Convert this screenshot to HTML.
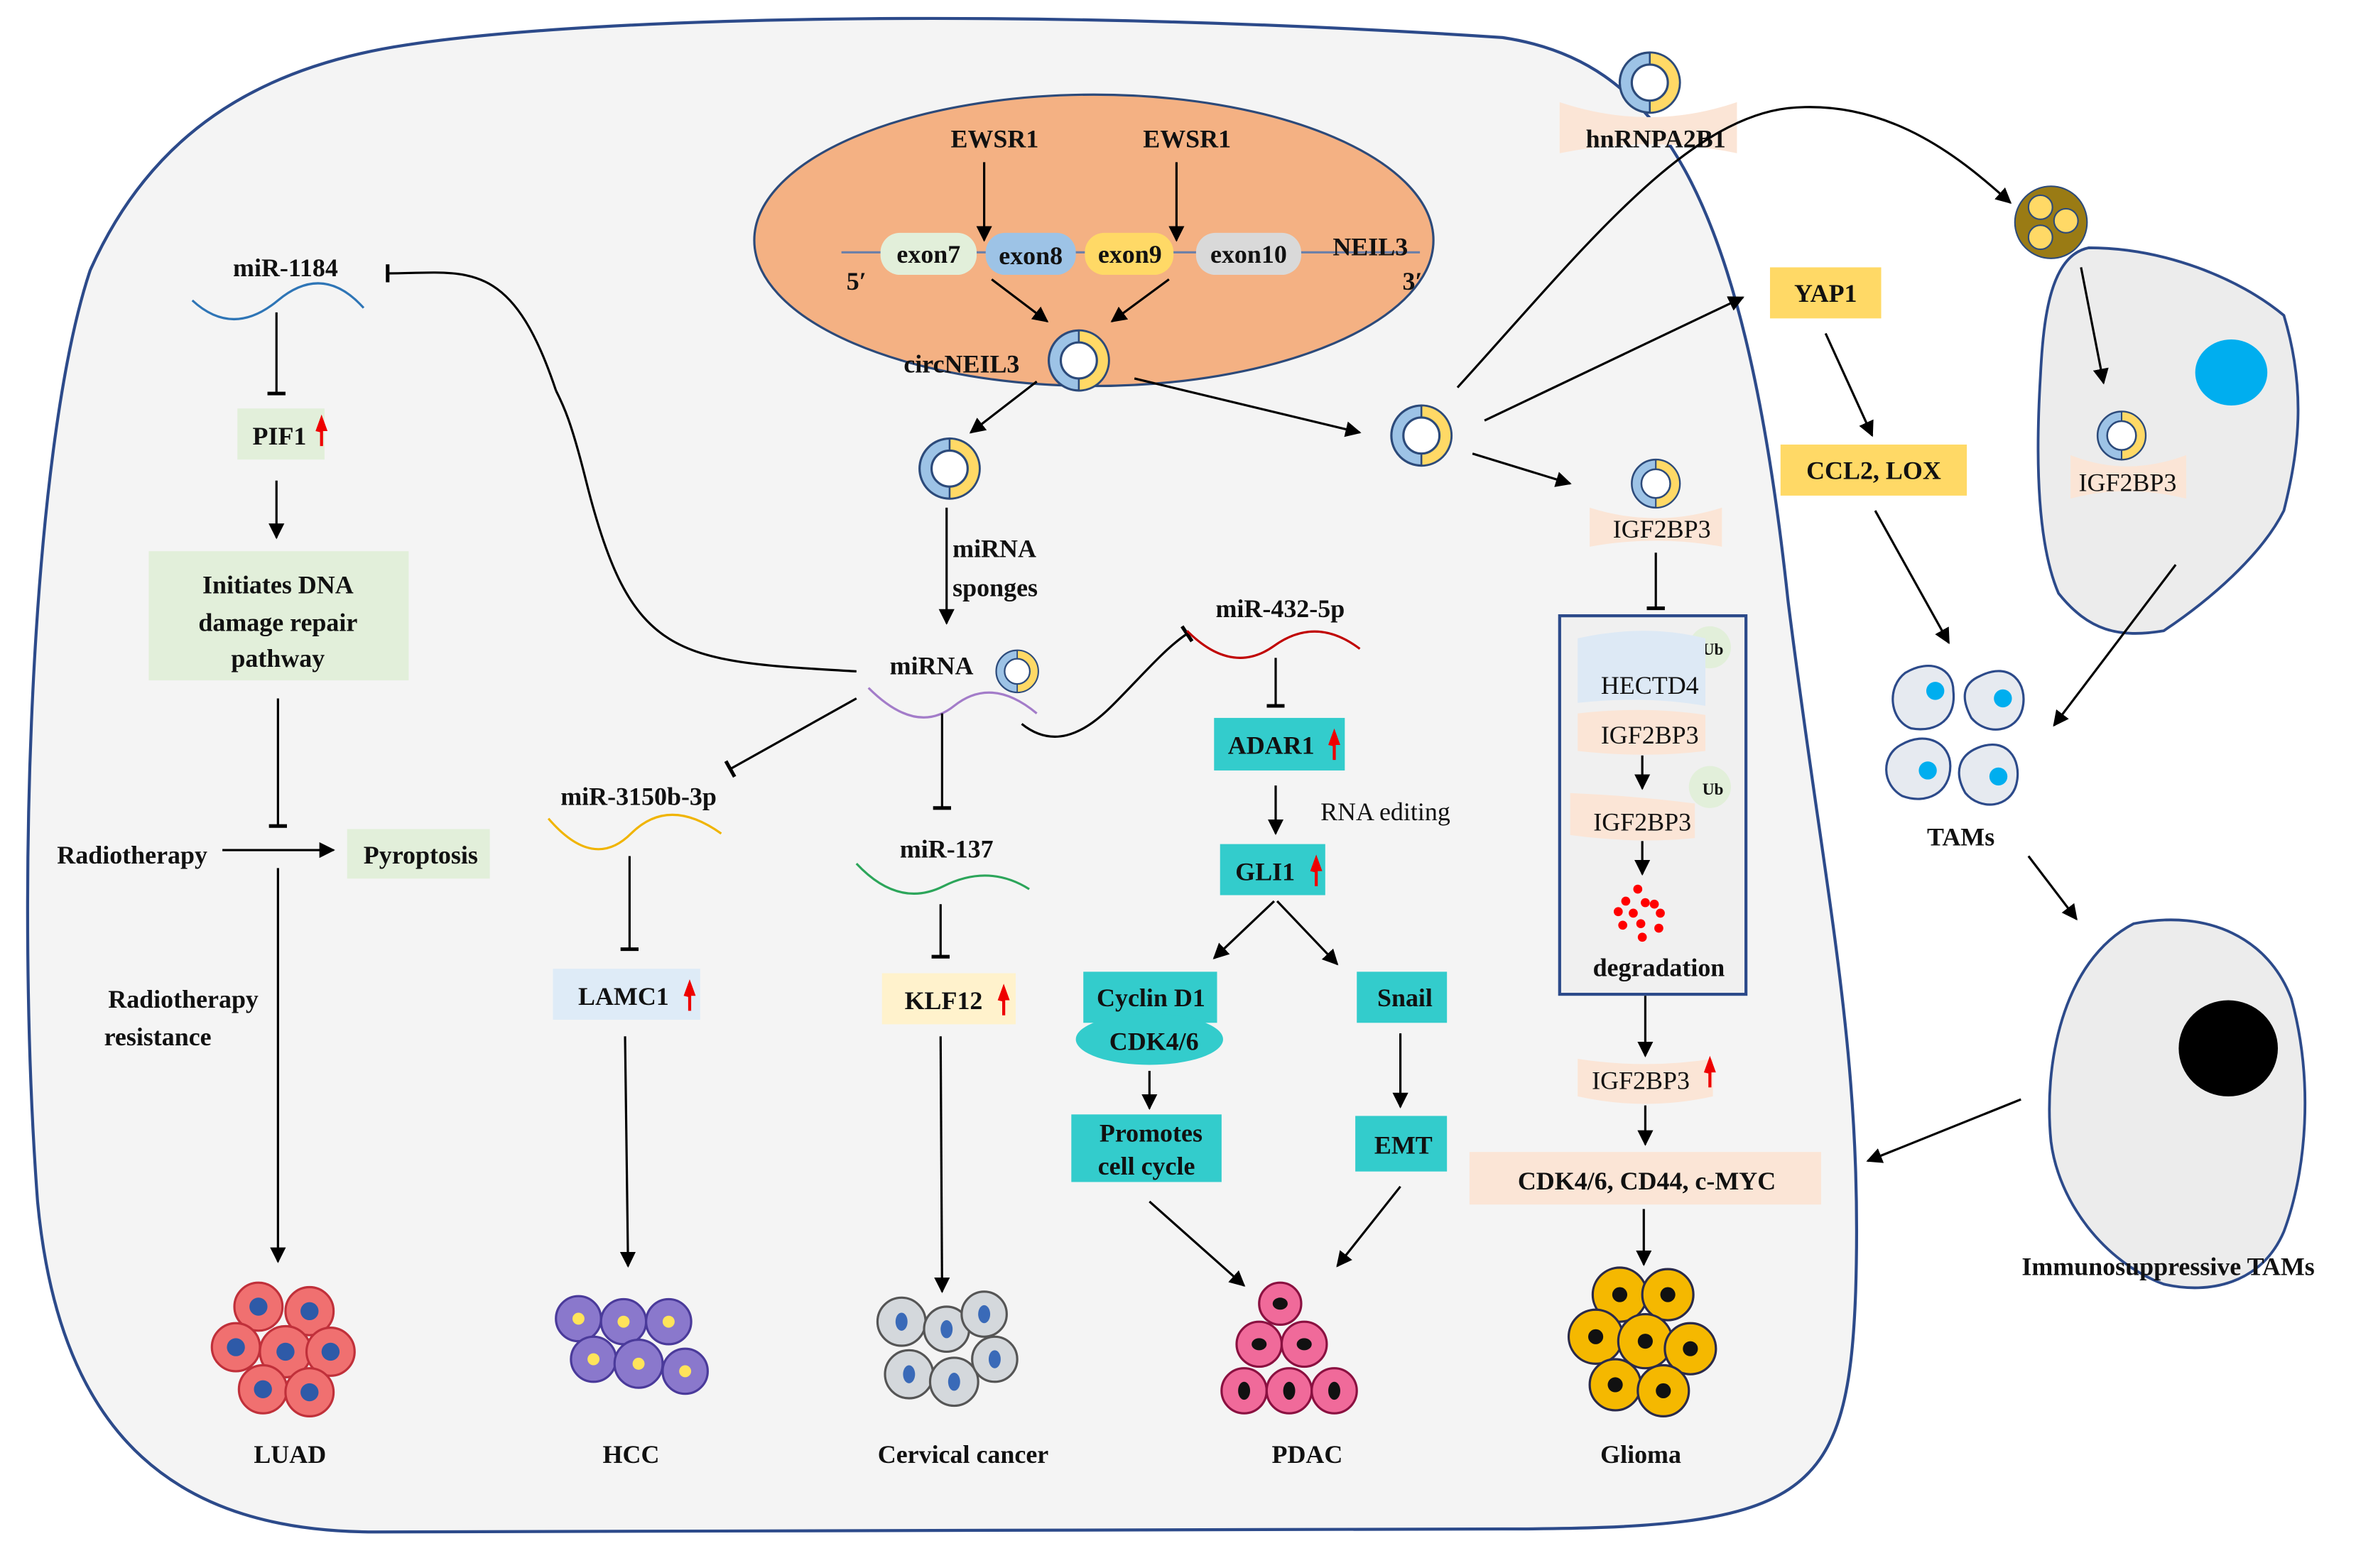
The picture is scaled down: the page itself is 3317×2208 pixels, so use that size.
<!DOCTYPE html>
<html><head><meta charset="utf-8"><style>
html,body{margin:0;padding:0;background:#fff}
svg{display:block}
text{font-family:"Liberation Serif",serif;font-weight:bold;font-size:17px;fill:#111}
.n{font-weight:normal}
</style></head><body>
<svg width="3317" height="2208" viewBox="0 0 1568 1044" preserveAspectRatio="none" xmlns="http://www.w3.org/2000/svg">
<defs>
<marker id="a" viewBox="0 0 10 10" refX="9" refY="5" markerWidth="7" markerHeight="7" orient="auto"><path d="M0,0 L10,5 L0,10 z" fill="#000"/></marker>
<marker id="t" viewBox="0 0 10 10" refX="5" refY="5" markerWidth="8" markerHeight="8" orient="auto"><path d="M5,0 L5,10" stroke="#000" stroke-width="2"/></marker>
<g id="circ"><circle r="20" fill="#9dc3e6" stroke="#2c4a7a" stroke-width="1.5"/><path d="M0,-20 A20,20 0 0,1 0,20 z" fill="#ffd966" stroke="#2c4a7a" stroke-width="1.2"/><circle r="12" fill="#fff" stroke="#2c4a7a" stroke-width="1.5"/></g>
<g id="ra"><path d="M0,0 L-4,-1 L0,-12 L4,-1 L1,-1 L1,9 L-1,9 L-1,-1 z" fill="#e00"/></g>
</defs>
<!-- big cell -->
<path d="M270,30 C400,10 700,5 1000,25 C1100,40 1160,120 1190,400 C1215,600 1240,700 1235,860 C1230,1000 1200,1018 1000,1018 L250,1020 C120,1020 40,960 25,800 C10,600 20,300 60,180 C100,90 170,45 270,30 Z" fill="#f4f4f4" stroke="#2c4a8a" stroke-width="2"/>
<!-- nucleus -->
<ellipse cx="728" cy="160" rx="226" ry="97" fill="#f4b183" stroke="#2c4a7a" stroke-width="1.5"/>
<text x="662" y="98" text-anchor="middle">EWSR1</text>
<text x="790" y="98" text-anchor="middle">EWSR1</text>
<line x1="655" y1="108" x2="655" y2="160" stroke="#000" stroke-width="1.5" marker-end="url(#a)"/>
<line x1="783" y1="108" x2="783" y2="160" stroke="#000" stroke-width="1.5" marker-end="url(#a)"/>
<line x1="560" y1="168" x2="945" y2="168" stroke="#6a7fa8" stroke-width="1.5"/>
<rect x="586" y="155" width="64" height="28" rx="13" fill="#e2efda"/><text x="618" y="175" text-anchor="middle">exon7</text>
<rect x="656" y="155" width="60" height="28" rx="13" fill="#9dc3e6"/><text x="686" y="176" text-anchor="middle">exon8</text>
<rect x="722" y="155" width="59" height="28" rx="13" fill="#ffd966"/><text x="752" y="175" text-anchor="middle">exon9</text>
<rect x="796" y="155" width="70" height="28" rx="13" fill="#d9d9d9"/><text x="831" y="175" text-anchor="middle">exon10</text>
<text x="912" y="170" text-anchor="middle">NEIL3</text>
<text x="570" y="193" text-anchor="middle">5′</text><text x="940" y="193" text-anchor="middle">3′</text>
<line x1="660" y1="186" x2="697" y2="214" stroke="#000" stroke-width="1.5" marker-end="url(#a)"/>
<line x1="778" y1="186" x2="740" y2="214" stroke="#000" stroke-width="1.5" marker-end="url(#a)"/>
<use href="#circ" x="718" y="240"/>
<text x="640" y="248" text-anchor="middle">circNEIL3</text>
<line x1="690" y1="254" x2="646" y2="288" stroke="#000" stroke-width="1.5" marker-end="url(#a)"/>
<line x1="755" y1="252" x2="905" y2="288" stroke="#000" stroke-width="1.5" marker-end="url(#a)"/>
<use href="#circ" x="632" y="312"/>
<use href="#circ" x="946" y="290"/>
<line x1="630" y1="338" x2="630" y2="415" stroke="#000" stroke-width="1.5" marker-end="url(#a)"/>
<text x="634" y="371">miRNA</text><text x="634" y="397">sponges</text>
<!-- hnRNPA2B1 -->
<path d="M1038,68 Q1098,88 1156,68 L1156,102 Q1098,90 1038,102 Z" fill="#fbe5d6"/>
<use href="#circ" x="1098" y="55"/>
<text x="1102" y="98" text-anchor="middle">hnRNPA2B1</text>
<path d="M970,258 C1050,170 1120,80 1190,72 C1260,65 1310,110 1338,135" fill="none" stroke="#000" stroke-width="1.5" marker-end="url(#a)"/>
<circle cx="1365" cy="148" r="24" fill="#9a7b14" stroke="#2c4a7a"/>
<circle cx="1358" cy="138" r="8" fill="#ffd966" stroke="#2c4a7a"/><circle cx="1375" cy="147" r="8" fill="#ffd966" stroke="#2c4a7a"/><circle cx="1358" cy="158" r="8" fill="#ffd966" stroke="#2c4a7a"/>
<line x1="988" y1="280" x2="1160" y2="198" stroke="#000" stroke-width="1.5" marker-end="url(#a)"/>
<line x1="980" y1="302" x2="1045" y2="322" stroke="#000" stroke-width="1.5" marker-end="url(#a)"/>
<!-- YAP1 etc -->
<rect x="1178" y="178" width="74" height="34" fill="#ffd966"/><text x="1215" y="201" text-anchor="middle">YAP1</text>
<line x1="1215" y1="222" x2="1246" y2="290" stroke="#000" stroke-width="1.5" marker-end="url(#a)"/>
<rect x="1185" y="296" width="124" height="34" fill="#ffd966"/><text x="1247" y="319" text-anchor="middle">CCL2, LOX</text>
<line x1="1248" y1="340" x2="1297" y2="428" stroke="#000" stroke-width="1.5" marker-end="url(#a)"/>
<!-- recipient cell -->
<path d="M1390,165 C1440,165 1490,185 1520,210 C1535,260 1530,300 1520,340 C1505,370 1470,400 1440,420 C1410,425 1390,420 1370,395 C1355,360 1355,300 1358,250 C1360,210 1365,170 1390,165 Z" fill="#ececec" stroke="#2c4a8a" stroke-width="1.8"/>
<ellipse cx="1485" cy="248" rx="24" ry="22" fill="#00aeef"/>
<line x1="1385" y1="178" x2="1400" y2="255" stroke="#000" stroke-width="1.5" marker-end="url(#a)"/>
<path d="M1378,303 Q1415,318 1455,303 L1455,332 Q1415,322 1378,332 Z" fill="#fbe5d6"/>
<g transform="translate(1412,290) scale(0.8)"><use href="#circ"/></g>
<text x="1416" y="327" text-anchor="middle" class="n">IGF2BP3</text>
<line x1="1448" y1="376" x2="1367" y2="483" stroke="#000" stroke-width="1.5" marker-end="url(#a)"/>
<!-- TAMs -->
<g fill="#e6eaf0" stroke="#2c4a8a" stroke-width="1.5">
<path d="M1268,448 C1285,438 1300,445 1300,460 C1302,478 1290,488 1272,485 C1258,480 1255,458 1268,448 Z"/>
<path d="M1318,450 C1338,440 1350,455 1346,472 C1342,488 1322,490 1312,478 C1305,465 1306,455 1318,450 Z"/>
<path d="M1265,496 C1282,486 1298,495 1298,510 C1298,528 1282,536 1266,530 C1252,522 1252,503 1265,496 Z"/>
<path d="M1316,498 C1335,490 1346,505 1342,522 C1338,538 1318,540 1308,528 C1300,514 1304,503 1316,498 Z"/>
</g>
<g fill="#00aeef"><circle cx="1288" cy="460" r="6"/><circle cx="1333" cy="465" r="6"/><circle cx="1283" cy="513" r="6"/><circle cx="1330" cy="517" r="6"/></g>
<text x="1305" y="563" text-anchor="middle">TAMs</text>
<line x1="1350" y1="570" x2="1382" y2="612" stroke="#000" stroke-width="1.5" marker-end="url(#a)"/>
<path d="M1420,615 C1470,605 1510,625 1525,665 C1540,720 1535,780 1520,820 C1505,855 1470,862 1440,855 C1400,840 1370,800 1365,760 C1360,710 1372,640 1420,615 Z" fill="#ececec" stroke="#2c4a8a" stroke-width="1.8"/>
<ellipse cx="1483" cy="698" rx="33" ry="32" fill="#000"/>
<text x="1443" y="849" text-anchor="middle">Immunosuppressive TAMs</text>
<line x1="1345" y1="732" x2="1243" y2="773" stroke="#000" stroke-width="1.5" marker-end="url(#a)"/>
<!-- IGF2BP3 column -->
<path d="M1058,338 Q1102,352 1146,338 L1146,364 Q1102,356 1058,364 Z" fill="#fbe5d6"/>
<g transform="translate(1102,322) scale(0.8)"><use href="#circ"/></g>
<text x="1106" y="358" text-anchor="middle" class="n">IGF2BP3</text>
<line x1="1102" y1="368" x2="1102" y2="405" stroke="#000" stroke-width="1.5" marker-end="url(#t)"/>
<rect x="1038" y="410" width="124" height="252" fill="#f0f0f0" stroke="#2c4a8a" stroke-width="2"/>
<circle cx="1138" cy="431" r="14" fill="#e2efda"/><text x="1140" y="436" text-anchor="middle" style="font-size:11px">Ub</text>
<path d="M1050,425 Q1095,415 1135,425 L1135,470 Q1095,463 1050,468 Z" fill="#dde9f5"/>
<text x="1098" y="462" text-anchor="middle" class="n">HECTD4</text>
<path d="M1050,475 Q1095,470 1135,476 L1135,500 Q1095,505 1050,500 Z" fill="#fbe5d6"/>
<text x="1098" y="495" text-anchor="middle" class="n">IGF2BP3</text>
<line x1="1093" y1="503" x2="1093" y2="525" stroke="#000" stroke-width="1.5" marker-end="url(#a)"/>
<circle cx="1138" cy="524" r="14" fill="#e2efda"/><text x="1140" y="529" text-anchor="middle" style="font-size:11px">Ub</text>
<path d="M1045,528 Q1090,530 1128,535 L1128,558 Q1090,562 1045,556 Z" fill="#fbe5d6"/>
<text x="1093" y="553" text-anchor="middle" class="n">IGF2BP3</text>
<line x1="1093" y1="560" x2="1093" y2="582" stroke="#000" stroke-width="1.5" marker-end="url(#a)"/>
<g fill="#f00"><circle cx="1090" cy="592" r="3"/><circle cx="1082" cy="600" r="3"/><circle cx="1095" cy="601" r="3"/><circle cx="1105" cy="608" r="3"/><circle cx="1077" cy="607" r="3"/><circle cx="1087" cy="608" r="3"/><circle cx="1101" cy="602" r="3"/><circle cx="1092" cy="615" r="3"/><circle cx="1080" cy="616" r="3"/><circle cx="1104" cy="618" r="3"/><circle cx="1093" cy="624" r="3"/></g>
<text x="1104" y="650" text-anchor="middle">degradation</text>
<line x1="1095" y1="663" x2="1095" y2="703" stroke="#000" stroke-width="1.5" marker-end="url(#a)"/>
<path d="M1050,705 Q1095,712 1140,705 L1140,730 Q1095,740 1050,730 Z" fill="#fbe5d6"/>
<text x="1092" y="725" text-anchor="middle" class="n">IGF2BP3</text><use href="#ra" x="1138" y="715"/>
<line x1="1095" y1="736" x2="1095" y2="762" stroke="#000" stroke-width="1.5" marker-end="url(#a)"/>
<rect x="978" y="767" width="234" height="35" fill="#fbe5d6"/><text x="1096" y="792" text-anchor="middle">CDK4/6, CD44, c-MYC</text>
<line x1="1094" y1="805" x2="1094" y2="842" stroke="#000" stroke-width="1.5" marker-end="url(#a)"/>
<!-- Glioma -->
<g fill="#f5b800" stroke="#2a2a4a" stroke-width="1.5">
<circle cx="1078" cy="862" r="18"/><circle cx="1110" cy="862" r="17"/><circle cx="1062" cy="890" r="18"/><circle cx="1095" cy="893" r="18"/><circle cx="1125" cy="898" r="17"/><circle cx="1075" cy="922" r="17"/><circle cx="1107" cy="926" r="17"/>
</g>
<g fill="#111"><circle cx="1078" cy="862" r="5"/><circle cx="1110" cy="862" r="5"/><circle cx="1062" cy="890" r="5"/><circle cx="1095" cy="893" r="5"/><circle cx="1125" cy="898" r="5"/><circle cx="1075" cy="922" r="5"/><circle cx="1107" cy="926" r="5"/></g>
<text x="1092" y="974" text-anchor="middle">Glioma</text>
<!-- miR-1184 branch -->
<text x="190" y="184" text-anchor="middle">miR-1184</text>
<path d="M128,200 Q155,225 185,200 T242,205" fill="none" stroke="#2e75b6" stroke-width="1.5"/>
<path d="M370,260 C340,170 310,182 258,182" fill="none" stroke="#000" stroke-width="1.5" marker-end="url(#t)"/>
<path d="M570,447 C450,440 420,440 390,320 C380,280 375,270 370,260" fill="none" stroke="#000" stroke-width="1.5"/>
<line x1="184" y1="208" x2="184" y2="262" stroke="#000" stroke-width="1.5" marker-end="url(#t)"/>
<rect x="158" y="272" width="58" height="34" fill="#e2efda"/><text x="186" y="296" text-anchor="middle">PIF1</text><use href="#ra" x="214" y="288"/>
<line x1="184" y1="320" x2="184" y2="358" stroke="#000" stroke-width="1.5" marker-end="url(#a)"/>
<rect x="99" y="367" width="173" height="86" fill="#e2efda"/>
<text x="185" y="395" text-anchor="middle">Initiates DNA</text><text x="185" y="420" text-anchor="middle">damage repair</text><text x="185" y="444" text-anchor="middle">pathway</text>
<line x1="185" y1="465" x2="185" y2="550" stroke="#000" stroke-width="1.5" marker-end="url(#t)"/>
<text x="88" y="575" text-anchor="middle">Radiotherapy</text>
<line x1="148" y1="566" x2="222" y2="566" stroke="#000" stroke-width="1.5" marker-end="url(#a)"/>
<rect x="231" y="552" width="95" height="33" fill="#e2efda"/><text x="280" y="575" text-anchor="middle">Pyroptosis</text>
<line x1="185" y1="578" x2="185" y2="840" stroke="#000" stroke-width="1.5" marker-end="url(#a)"/>
<text x="122" y="671" text-anchor="middle">Radiotherapy</text><text x="105" y="696" text-anchor="middle">resistance</text>
<!-- LUAD -->
<g fill="#f07070" stroke="#c0303a" stroke-width="1.5">
<circle cx="172" cy="870" r="16"/><circle cx="206" cy="873" r="16"/><circle cx="157" cy="897" r="16"/><circle cx="190" cy="900" r="17"/><circle cx="220" cy="900" r="16"/><circle cx="175" cy="925" r="16"/><circle cx="206" cy="927" r="16"/>
</g>
<g fill="#2e5aa8"><circle cx="172" cy="870" r="6"/><circle cx="206" cy="873" r="6"/><circle cx="157" cy="897" r="6"/><circle cx="190" cy="900" r="6"/><circle cx="220" cy="900" r="6"/><circle cx="175" cy="925" r="6"/><circle cx="206" cy="927" r="6"/></g>
<text x="193" y="974" text-anchor="middle">LUAD</text>
<!-- miRNA center -->
<text x="620" y="449" text-anchor="middle">miRNA</text>
<g transform="translate(677,447) scale(0.7)"><use href="#circ"/></g>
<path d="M578,458 Q610,490 635,470 T690,475" fill="none" stroke="#a37cc9" stroke-width="1.5"/>
<line x1="570" y1="465" x2="486" y2="512" stroke="#000" stroke-width="1.5" marker-end="url(#t)"/>
<line x1="627" y1="475" x2="627" y2="538" stroke="#000" stroke-width="1.5" marker-end="url(#t)"/>
<path d="M680,482 C700,498 720,490 740,470 C760,450 775,432 790,422" fill="none" stroke="#000" stroke-width="1.5" marker-end="url(#t)"/>
<!-- HCC branch -->
<text x="425" y="536" text-anchor="middle">miR-3150b-3p</text>
<path d="M365,545 Q395,580 420,555 T480,555" fill="none" stroke="#f0b400" stroke-width="1.5"/>
<line x1="419" y1="570" x2="419" y2="632" stroke="#000" stroke-width="1.5" marker-end="url(#t)"/>
<rect x="368" y="645" width="98" height="34" fill="#deebf7"/><text x="415" y="669" text-anchor="middle">LAMC1</text><use href="#ra" x="459" y="664"/>
<line x1="416" y1="690" x2="418" y2="843" stroke="#000" stroke-width="1.5" marker-end="url(#a)"/>
<g fill="#8a78cc" stroke="#4a3a9a" stroke-width="1.5">
<circle cx="385" cy="878" r="15"/><circle cx="415" cy="880" r="15"/><circle cx="445" cy="880" r="15"/><circle cx="395" cy="905" r="15"/><circle cx="425" cy="908" r="16"/><circle cx="456" cy="913" r="15"/>
</g>
<g fill="#ffe45a"><circle cx="385" cy="878" r="4"/><circle cx="415" cy="880" r="4"/><circle cx="445" cy="880" r="4"/><circle cx="395" cy="905" r="4"/><circle cx="425" cy="908" r="4"/><circle cx="456" cy="913" r="4"/></g>
<text x="420" y="974" text-anchor="middle">HCC</text>
<!-- cervical -->
<text x="630" y="571" text-anchor="middle">miR-137</text>
<path d="M570,575 Q598,605 628,590 T685,592" fill="none" stroke="#2ca55a" stroke-width="1.5"/>
<line x1="626" y1="602" x2="626" y2="637" stroke="#000" stroke-width="1.5" marker-end="url(#t)"/>
<rect x="587" y="648" width="89" height="34" fill="#fff2cc"/><text x="628" y="672" text-anchor="middle">KLF12</text><use href="#ra" x="668" y="667"/>
<line x1="626" y1="690" x2="627" y2="860" stroke="#000" stroke-width="1.5" marker-end="url(#a)"/>
<g fill="#d4d8dc" stroke="#555" stroke-width="1.5">
<circle cx="600" cy="880" r="16"/><circle cx="630" cy="885" r="15"/><circle cx="655" cy="875" r="15"/><circle cx="605" cy="915" r="16"/><circle cx="635" cy="920" r="16"/><circle cx="662" cy="905" r="15"/>
</g>
<g fill="#3a6ab8"><ellipse cx="600" cy="880" rx="4" ry="6"/><ellipse cx="630" cy="885" rx="4" ry="6"/><ellipse cx="655" cy="875" rx="4" ry="6"/><ellipse cx="605" cy="915" rx="4" ry="6"/><ellipse cx="635" cy="920" rx="4" ry="6"/><ellipse cx="662" cy="905" rx="4" ry="6"/></g>
<text x="641" y="974" text-anchor="middle">Cervical cancer</text>
<!-- PDAC branch -->
<text x="852" y="411" text-anchor="middle">miR-432-5p</text>
<path d="M790,420 Q820,450 848,430 T905,432" fill="none" stroke="#c00000" stroke-width="1.5"/>
<line x1="849" y1="438" x2="849" y2="470" stroke="#000" stroke-width="1.5" marker-end="url(#t)"/>
<rect x="808" y="478" width="87" height="35" fill="#33cccc"/><text x="846" y="502" text-anchor="middle">ADAR1</text><use href="#ra" x="888" y="497"/>
<line x1="849" y1="523" x2="849" y2="555" stroke="#000" stroke-width="1.5" marker-end="url(#a)"/>
<text x="922" y="546" text-anchor="middle" class="n" style="font-weight:normal">RNA editing</text>
<rect x="812" y="562" width="70" height="34" fill="#33cccc"/><text x="842" y="586" text-anchor="middle">GLI1</text><use href="#ra" x="876" y="581"/>
<line x1="848" y1="600" x2="808" y2="638" stroke="#000" stroke-width="1.5" marker-end="url(#a)"/>
<line x1="850" y1="600" x2="890" y2="642" stroke="#000" stroke-width="1.5" marker-end="url(#a)"/>
<rect x="721" y="647" width="89" height="34" fill="#33cccc"/><text x="766" y="670" text-anchor="middle">Cyclin D1</text>
<ellipse cx="765" cy="692" rx="49" ry="17" fill="#33cccc"/><text x="768" y="699" text-anchor="middle">CDK4/6</text>
<line x1="765" y1="713" x2="765" y2="738" stroke="#000" stroke-width="1.5" marker-end="url(#a)"/>
<rect x="713" y="742" width="100" height="45" fill="#33cccc"/><text x="766" y="760" text-anchor="middle">Promotes</text><text x="763" y="782" text-anchor="middle">cell cycle</text>
<rect x="903" y="647" width="60" height="34" fill="#33cccc"/><text x="935" y="670" text-anchor="middle">Snail</text>
<line x1="932" y1="688" x2="932" y2="737" stroke="#000" stroke-width="1.5" marker-end="url(#a)"/>
<rect x="902" y="743" width="61" height="37" fill="#33cccc"/><text x="934" y="768" text-anchor="middle">EMT</text>
<line x1="765" y1="800" x2="828" y2="856" stroke="#000" stroke-width="1.5" marker-end="url(#a)"/>
<line x1="932" y1="790" x2="890" y2="843" stroke="#000" stroke-width="1.5" marker-end="url(#a)"/>
<g fill="#f06a9a" stroke="#8a1040" stroke-width="1.5">
<circle cx="852" cy="868" r="14"/><circle cx="838" cy="895" r="15"/><circle cx="868" cy="895" r="15"/><circle cx="828" cy="926" r="15"/><circle cx="858" cy="926" r="15"/><circle cx="888" cy="926" r="15"/>
</g>
<g fill="#111"><ellipse cx="852" cy="868" rx="5" ry="4"/><ellipse cx="838" cy="895" rx="5" ry="4"/><ellipse cx="868" cy="895" rx="5" ry="4"/><ellipse cx="828" cy="926" rx="4" ry="6"/><ellipse cx="858" cy="926" rx="4" ry="6"/><ellipse cx="888" cy="926" rx="4" ry="6"/></g>
<text x="870" y="974" text-anchor="middle">PDAC</text>
</svg>
</body></html>
